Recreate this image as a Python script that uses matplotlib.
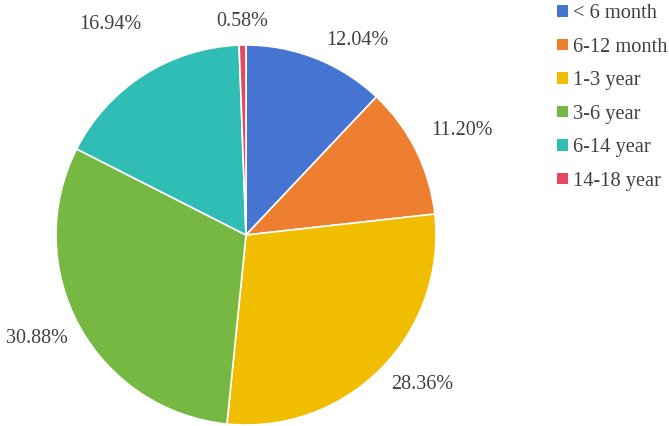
import matplotlib
matplotlib.use('Agg')
import matplotlib.pyplot as plt
import numpy as np
from matplotlib.patches import Patch

plt.rcParams['font.family'] = ['Liberation Serif', 'DejaVu Serif']

# data
groups = ['< 6 month', '6-12 month', '1-3 year', '3-6 year', '6-14 year', '14-18 year']
shares = [12.04, 11.20, 28.36, 30.88, 16.94, 0.58]
colors = ['#4674D3', '#EE7E30', '#F0BD00', '#77B843', '#30BDB6', '#E64860']

# small label shifts (pixels) to follow the original label placement
nudge = [(7, 0), (7, 6), (3, 0), (-3, 2), (3, 33), (0, 5)]

fig = plt.figure(figsize=(6.69, 4.26), dpi=100)
ax = fig.add_axes([56/669, 1/426, 380/669, 380/426])

wedges, _ = ax.pie(shares, colors=colors, startangle=90, counterclock=False,
                   wedgeprops=dict(edgecolor='white', linewidth=1.2))
ax.set_xlim(-1, 1)
ax.set_ylim(-1, 1)
ax.set_aspect('equal')

for w, v, d in zip(wedges, shares, nudge):
    ang = np.deg2rad((w.theta1 + w.theta2) / 2)
    c, s = np.cos(ang), np.sin(ang)
    ha = 'left' if c > 0.1 else ('right' if c < -0.1 else 'center')
    va = 'bottom' if s > 0.1 else ('top' if s < -0.1 else 'center')
    ax.annotate('%.2f%%' % v, (1.05 * c, 1.05 * s), xytext=d,
                textcoords='offset pixels', ha=ha, va=va, fontsize=14.5,
                color='#404040', annotation_clip=False)

handles = [Patch(facecolor=col, edgecolor='none') for col in colors]
fig.legend(handles, groups, loc='upper left', bbox_to_anchor=(543/669, 1.0235),
           frameon=False, fontsize=14.7, handlelength=0.5, handleheight=0.5,
           handletextpad=0.25, labelspacing=0.71, borderpad=0.2,
           labelcolor='#404040')

fig.savefig('out.png', dpi=100)
